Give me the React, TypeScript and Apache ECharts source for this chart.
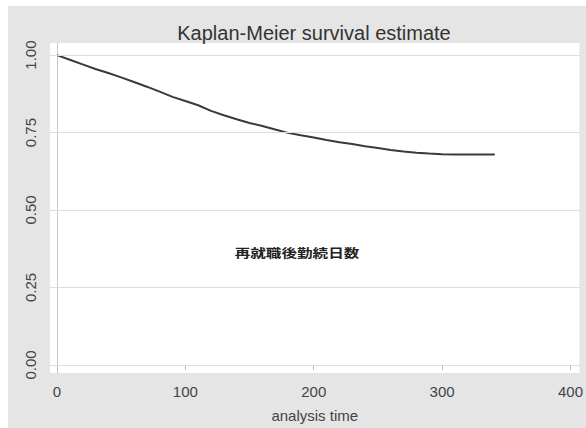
import React, { useEffect, useRef } from "react";
import * as echarts from "echarts";

const titleText = "Kaplan-Meier survival estimate";
const xAxisName = "analysis time";
const noteText = "再就職後勤続日数";
const xTicks = [0, 100, 200, 300, 400];
const yTicks = [0, 0.25, 0.5, 0.75, 1.0];
const times = [0, 10, 20, 30, 40, 50, 60, 70, 80, 90, 100, 110, 120, 130, 140, 150, 160, 170, 180, 190, 200, 210, 220, 230, 240, 250, 260, 270, 280, 290, 300, 310, 320, 330, 341];
const survival = [1.0, 0.985, 0.97, 0.955, 0.942, 0.928, 0.913, 0.898, 0.882, 0.865, 0.852, 0.838, 0.82, 0.806, 0.793, 0.781, 0.771, 0.76, 0.749, 0.741, 0.734, 0.726, 0.719, 0.713, 0.706, 0.7, 0.694, 0.689, 0.685, 0.682, 0.68, 0.679, 0.679, 0.679, 0.679];

export default function App() {
  const ref = useRef<HTMLDivElement>(null);
  useEffect(() => {
    if (!ref.current) return;
    const chart = echarts.init(ref.current, null, { renderer: "svg" });
    const font = "'Liberation Sans', Arial, sans-serif";
    chart.setOption({
      animation: false,
      backgroundColor: "#e5e5e5",
      title: {
        text: titleText,
        left: 306,
        textAlign: "center",
        top: 17,
        padding: 0,
        textStyle: { fontFamily: font, fontSize: 20, fontWeight: "normal", color: "#333" },
      },
      grid: {
        left: 42,
        right: 4,
        top: 37,
        bottom: 55,
        show: true,
        backgroundColor: "#ffffff",
        borderWidth: 0,
      },
      xAxis: {
        type: "value",
        min: -5.4,
        max: 407,
        name: xAxisName,
        nameLocation: "middle",
        nameGap: 35,
        nameTextStyle: { fontFamily: font, fontSize: 15, color: "#444" },
        axisLine: { show: true, lineStyle: { color: "#c8c8c8", width: 1 } },
        axisTick: { show: true, customValues: xTicks, length: 5, lineStyle: { color: "#bbb" } },
        axisLabel: {
          customValues: xTicks,
          fontFamily: font,
          fontSize: 15,
          color: "#444",
          margin: 11,
        },
        splitLine: { show: false },
      },
      yAxis: {
        type: "value",
        min: -0.026,
        max: 1.039,
        axisLine: { show: true, lineStyle: { color: "#c8c8c8", width: 1 } },
        axisTick: { show: true, customValues: yTicks, length: 5, lineStyle: { color: "#bbb" } },
        axisLabel: {
          customValues: yTicks,
          rotate: 90,
          fontFamily: font,
          fontSize: 15,
          color: "#444",
          margin: 12,
          formatter: (v: number) => v.toFixed(2),
        },
        splitLine: { show: false },
      },
      graphic: [
        {
          type: "text",
          x: 289,
          y: 247,
          scaleX: 1.3,
          style: {
            text: noteText,
            fontFamily: "'Noto Sans CJK JP', sans-serif",
            fontSize: 12,
            fontWeight: "bold",
            fill: "#222",
            textAlign: "center",
            textVerticalAlign: "middle",
          },
        },
      ],
      series: [
        {
          type: "line",
          data: times.map((t, i) => [t, survival[i]]),
          showSymbol: false,
          lineStyle: { color: "#3a3a3a", width: 2 },
          markLine: {
            silent: true,
            symbol: "none",
            label: { show: false },
            lineStyle: { color: "#dedede", width: 1, type: "solid" },
            data: yTicks.map((v) => ({ yAxis: v })),
          },
          z: 3,
        },
      ],
    });
    return () => chart.dispose();
  }, []);
  return (
    <div
      ref={ref}
      style={{ position: "absolute", left: 8, top: 6, width: 578, height: 422 }}
    />
  );
}
